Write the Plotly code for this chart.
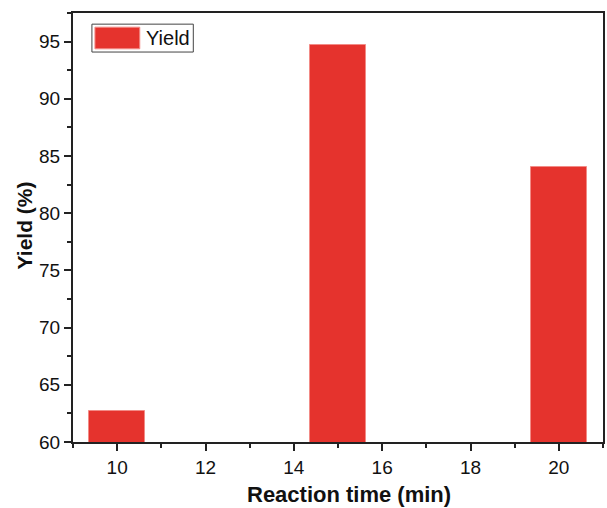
import plotly.graph_objects as go

# Data
reaction_time = [10, 15, 20]
yield_pct = [62.7, 94.7, 84.0]
series_name = "Yield"
x_ticks = [10, 12, 14, 16, 18, 20]
y_ticks = [60, 65, 70, 75, 80, 85, 90, 95]

BAR_COLOR = "#E5332D"
AX_COLOR = "#222222"
FONT = "Arial, Liberation Sans, sans-serif"

fig = go.Figure()
fig.add_trace(go.Bar(
    x=reaction_time, y=yield_pct, name=series_name, width=1.26,
    marker=dict(color=BAR_COLOR, line=dict(color="#F28B86", width=1)),
    showlegend=False,
))

axis_common = dict(
    showline=True, linecolor=AX_COLOR, linewidth=2, mirror=True,
    ticks="outside", ticklen=7, tickwidth=1.5, tickcolor=AX_COLOR,
    showgrid=False, zeroline=False,
    tickfont=dict(family=FONT, size=19, color="#111111"),
)

fig.update_layout(
    width=607, height=508,
    margin=dict(l=73, r=2, t=13, b=66),
    paper_bgcolor="white", plot_bgcolor="white",
    xaxis=dict(range=[9, 21], tickvals=x_ticks,
               minor=dict(dtick=1, tick0=9, ticks="outside", ticklen=4,
                          tickwidth=1.5, tickcolor=AX_COLOR),
               **axis_common),
    yaxis=dict(range=[60, 97.5], tickvals=y_ticks,
               minor=dict(dtick=2.5, tick0=60, ticks="outside", ticklen=4,
                          tickwidth=1.5, tickcolor=AX_COLOR),
               **axis_common),
    bargap=0,
)

# Axis titles
fig.add_annotation(text="<b>Reaction time (min)</b>", xref="paper", yref="paper",
                   x=0.5207, y=-0.122, showarrow=False, xanchor="center", yanchor="middle",
                   font=dict(family=FONT, size=22, color="#111111"))
fig.add_annotation(text="<b>Yield (%)</b>", xref="paper", yref="paper",
                   x=-0.092, y=0.5055, showarrow=False, xanchor="center", yanchor="middle",
                   textangle=-90, font=dict(family=FONT, size=21, color="#111111"))

# Custom legend (box, swatch, label)
fig.add_shape(type="rect", xref="paper", yref="paper", x0=0.0357, x1=0.227,
              y0=0.909, y1=0.974, line=dict(color="#444444", width=1), fillcolor="white")
fig.add_shape(type="rect", xref="paper", yref="paper", x0=0.0414, x1=0.126,
              y0=0.9165, y1=0.967, line=dict(color="#F28B86", width=1), fillcolor=BAR_COLOR)
fig.add_annotation(text=series_name, xref="paper", yref="paper", x=0.134, y=0.9415,
                   showarrow=False, xanchor="left", yanchor="middle",
                   font=dict(family=FONT, size=20, color="#111111"))

fig.write_html("out.html")
